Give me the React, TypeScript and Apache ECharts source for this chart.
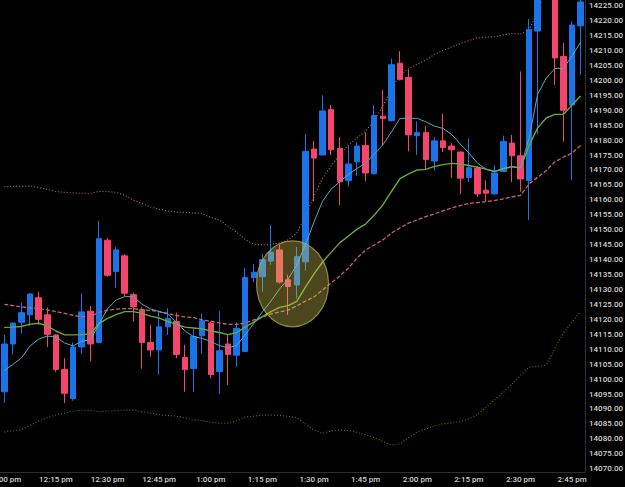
import React, { useEffect, useRef } from 'react';
import * as echarts from 'echarts';

const times = [
  '12:00 pm', '12:02:30 pm', '12:05 pm', '12:07:30 pm', '12:10 pm', '12:12:30 pm',
  '12:15 pm', '12:17:30 pm', '12:20 pm', '12:22:30 pm', '12:25 pm', '12:27:30 pm',
  '12:30 pm', '12:32:30 pm', '12:35 pm', '12:37:30 pm', '12:40 pm', '12:42:30 pm',
  '12:45 pm', '12:47:30 pm', '12:50 pm', '12:52:30 pm', '12:55 pm', '12:57:30 pm',
  '1:00 pm', '1:02:30 pm', '1:05 pm', '1:07:30 pm', '1:10 pm', '1:12:30 pm',
  '1:15 pm', '1:17:30 pm', '1:20 pm', '1:22:30 pm', '1:25 pm', '1:27:30 pm',
  '1:30 pm', '1:32:30 pm', '1:35 pm', '1:37:30 pm', '1:40 pm', '1:42:30 pm',
  '1:45 pm', '1:47:30 pm', '1:50 pm', '1:52:30 pm', '1:55 pm', '1:57:30 pm',
  '2:00 pm', '2:02:30 pm', '2:05 pm', '2:07:30 pm', '2:10 pm', '2:12:30 pm',
  '2:15 pm', '2:17:30 pm', '2:20 pm', '2:22:30 pm', '2:25 pm', '2:27:30 pm',
  '2:30 pm', '2:32:30 pm', '2:35 pm', '2:37:30 pm', '2:40 pm', '2:42:30 pm',
  '2:45 pm', '2:47:30 pm',
];

const open = [
  14095.75, 14111.75, 14119, 14121.5, 14127.25, 14121.5, 14114.75, 14103.25, 14093.5, 14110.75,
  14122.75, 14112.25, 14146.5, 14136, 14141.25, 14128.25, 14123.25, 14112.25, 14109.75, 14117.5,
  14119.25, 14107.25, 14103.5, 14114.5, 14118.75, 14102.5, 14111.75, 14108, 14109.25, 14134,
  14134.25, 14139.5, 14143.25, 14133.25, 14131.5, 14139.25, 14177, 14175, 14190.25, 14177.25,
  14166.5, 14172.75, 14178.25, 14168.75, 14188, 14186.5, 14205.75, 14201, 14181.5, 14182.5,
  14173, 14179.75, 14178, 14176, 14167.5, 14170.5, 14163.25, 14162, 14169.5, 14179,
  14174.75, 14166.5, 14216.5, 14231, 14234, 14208, 14191.75, 14218.25,
];
const close = [
  14111.75, 14118.75, 14122.25, 14128.5, 14120, 14115, 14103.25, 14095.25, 14110.75, 14122.5,
  14111.75, 14147, 14134.75, 14143.25, 14128.75, 14124.25, 14112.25, 14109.75, 14117.5, 14120.25,
  14108.25, 14103.25, 14114.25, 14119.5, 14101.5, 14109.5, 14108.25, 14117, 14134, 14135.75,
  14140, 14142.5, 14132.5, 14131, 14141, 14176.25, 14174, 14189.75, 14176.75, 14166,
  14172, 14178, 14169, 14188.25, 14187.25, 14205.25, 14200.25, 14181.75, 14182.5, 14173.5,
  14179.75, 14177.5, 14176.75, 14167.25, 14170.75, 14162, 14162.25, 14169, 14179.5, 14174.75,
  14167, 14217, 14229, 14238, 14207.5, 14190, 14218.5, 14226.25,
];
const low = [
  14092, 14108.25, 14115.25, 14117.75, 14118.25, 14110.75, 14102.5, 14092, 14092.75, 14108.5,
  14106, 14112, 14134.25, 14130.5, 14127.75, 14119.25, 14103.5, 14107.5, 14101.5, 14114.75,
  14107, 14095.75, 14095.75, 14108.5, 14100.25, 14095, 14098, 14104, 14109, 14132.5,
  14129.25, 14138.25, 14132, 14121.5, 14127, 14136.25, 14159.5, 14175, 14175, 14158.25,
  14164.5, 14168, 14166.25, 14168.5, 14178.25, 14186.25, 14200, 14176.25, 14175, 14170.25,
  14169.75, 14176, 14167.25, 14162, 14166, 14161, 14159.5, 14161.75, 14169.25, 14166,
  14162.75, 14153.25, 14182, 14228.5, 14198.5, 14179.5, 14166.5, 14201.75,
];
const high = [
  14114.75, 14119, 14125.5, 14128.75, 14129.25, 14124, 14115, 14107, 14112.25, 14128.75,
  14124.5, 14153, 14147.25, 14144.25, 14141.75, 14129, 14124, 14118.25, 14122.75, 14123.75,
  14122.25, 14111.5, 14116.75, 14122, 14119.25, 14122.75, 14114.75, 14119, 14137.25, 14138.5,
  14142, 14151.5, 14145, 14135, 14144.25, 14182, 14179.75, 14195, 14191.75, 14181,
  14178, 14179.25, 14182.5, 14191.75, 14196.75, 14207.25, 14209.75, 14203.5, 14186.25, 14184.75,
  14181, 14188.75, 14179, 14176.25, 14180.5, 14171.25, 14166.5, 14171.75, 14181.5, 14181.75,
  14203, 14220.5, 14232, 14241, 14237, 14212.5, 14219.75, 14228,
];

const fastMA = [
  14102.9, 14104.9, 14107.1, 14111.1, 14113.4, 14114.4, 14114.1, 14112.1, 14111.1, 14112.7,
  14113.1, 14118.4, 14123.5, 14126.5, 14127.6, 14127.6, 14125.1, 14123.5, 14122.6, 14121.8,
  14119.1, 14116.1, 14114.2, 14113.6, 14112.6, 14111.2, 14110.5, 14111.2, 14114.8, 14118.6,
  14122.5, 14126.1, 14130.2, 14133.5, 14138.2, 14144.9, 14152.6, 14159.6, 14163.6, 14166.1,
  14168.5, 14170.5, 14172.3, 14175.3, 14178.4, 14182.7, 14187.3, 14187.3, 14187.3, 14186.1,
  14184.7, 14183.9, 14181.9, 14178.7, 14175.7, 14172.3, 14170.2, 14169.5, 14170.6, 14171.1,
  14170.7, 14180.7, 14195.4, 14200.8, 14204.0, 14204.0, 14208.2, 14212.8,
];
const slowMA = [
  14117.3, 14117.4, 14117.6, 14118.4, 14118.7, 14117.8, 14116.1, 14114.8, 14114.8, 14114.9,
  14115.1, 14118.6, 14120.3, 14121.6, 14122.6, 14122.6, 14122.0, 14121.1, 14120.4, 14119.3,
  14118.3, 14117.4, 14117.1, 14116.8, 14116.1, 14115.6, 14114.9, 14115.6, 14117.4, 14119.1,
  14120.9, 14122.6, 14124.0, 14124.6, 14126.0, 14130.8, 14135.2, 14139.2, 14142.5, 14145.6,
  14147.9, 14150.2, 14151.9, 14154.9, 14158.3, 14162.8, 14167.1, 14168.7, 14170.0, 14170.2,
  14171.2, 14171.8, 14172.2, 14172.0, 14171.5, 14170.9, 14170.3, 14169.5, 14170.3, 14171.1,
  14170.7, 14178.2, 14184.1, 14187.4, 14188.6, 14188.6, 14191.8, 14194.8,
];
const bbMid = [
  14125.0, 14124.6, 14124.2, 14123.9, 14123.6, 14123.2, 14122.6, 14122.0, 14121.3, 14120.9,
  14121.0, 14122.3, 14123.0, 14123.4, 14123.6, 14123.6, 14123.2, 14123.0, 14122.6, 14122.0,
  14121.3, 14120.8, 14120.6, 14119.8, 14119.3, 14118.8, 14118.3, 14118.3, 14118.8, 14119.8,
  14120.8, 14121.8, 14122.5, 14123.1, 14124.5, 14126.1, 14127.5, 14129.8, 14132.2, 14134.5,
  14137.2, 14140.5, 14143.2, 14144.9, 14146.6, 14148.9, 14150.6, 14152.2, 14153.3, 14154.4,
  14155.3, 14156.3, 14157.3, 14158.1, 14158.8, 14159.1, 14159.4, 14159.8, 14160.3, 14161.0,
  14161.5, 14165.3, 14167.6, 14169.8, 14172.7, 14174.3, 14175.7, 14178.2,
];
const bbUpper = [
  14164.4, 14164.5, 14164.5, 14164.6, 14164.1, 14163.5, 14162.8, 14162.5, 14162.3, 14162.2,
  14162.2, 14162.8, 14162.8, 14162.5, 14161.5, 14159.9, 14158.8, 14157.6, 14156.8, 14156.3,
  14155.9, 14155.8, 14155.6, 14155.4, 14154.1, 14153.3, 14151.2, 14149.2, 14146.7, 14145.2,
  14144.9, 14145.1, 14145.6, 14146.6, 14148.9, 14154.6, 14161.3, 14167.3, 14171.5, 14175.0,
  14178.4, 14180.7, 14183.0, 14186.6, 14191.4, 14196.8, 14202.1, 14203.8, 14205.5, 14206.8,
  14208.7, 14210.0, 14211.2, 14212.3, 14213.3, 14214.2, 14214.5, 14214.6, 14215.2, 14215.7,
  14215.5, 14216.9, 14223.2, 14231.0, 14236.0, 14239.0, 14242.0, 14245.0,
];
const bbLower = [
  14082.3, 14082.7, 14083.1, 14084.5, 14086.0, 14087.1, 14088.0, 14088.6, 14089.3, 14089.6,
  14089.5, 14089.1, 14089.3, 14089.5, 14089.6, 14089.6, 14089.1, 14088.6, 14088.1, 14087.8,
  14087.6, 14087.0, 14086.3, 14086.1, 14085.6, 14085.2, 14085.2, 14086.0, 14087.3, 14087.6,
  14087.9, 14088.0, 14087.8, 14087.5, 14087.1, 14085.0, 14082.9, 14081.9, 14082.6, 14082.9,
  14082.8, 14082.1, 14081.4, 14080.4, 14079.1, 14077.9, 14078.3, 14080.4, 14082.3, 14083.3,
  14084.3, 14085.0, 14085.3, 14085.8, 14086.7, 14088.2, 14090.5, 14093.1, 14095.5, 14098.3,
  14101.2, 14104.0, 14104.3, 14104.7, 14110.4, 14115.4, 14119.1, 14122.6,
];

// highlighted zone (between candles 33 and 34)
const highlightIndex = [33, 34];
const highlightValue = 14131.9;

const yMin = 14068.9;
const yMax = 14226.9;

export default function App() {
  const ref = useRef<HTMLDivElement>(null);
  useEffect(() => {
    document.body.style.margin = '0';
    document.body.style.background = '#000';
    const chart = echarts.init(ref.current as HTMLDivElement, null, { renderer: 'svg' });
    const candles = open.map((o, i) => [o, close[i], low[i], high[i]]);
    const labelStyle = {
      color: '#d2d2d2',
      fontSize: 8,
      fontFamily: 'Roboto',
      fontWeight: 500,
    };
    chart.setOption({
      animation: false,
      backgroundColor: '#000000',
      grid: {
        left: 0,
        right: 40,
        top: 0,
        bottom: 15,
        containLabel: false,
        outerBoundsMode: 'none',
      },
      xAxis: {
        type: 'category',
        data: times,
        boundaryGap: true,
        axisLine: { show: true, lineStyle: { color: '#2e2e2e', width: 1 } },
        axisTick: { show: false },
        splitLine: { show: false },
        axisLabel: { ...labelStyle, interval: 5, margin: 3 },
      },
      yAxis: {
        type: 'value',
        position: 'right',
        min: yMin,
        max: yMax,
        splitNumber: 32,
        minInterval: 5,
        maxInterval: 5,
        axisLine: { show: true, lineStyle: { color: '#2e2e2e', width: 1 } },
        axisTick: { show: false },
        splitLine: { show: false },
        axisLabel: {
          ...labelStyle,
          margin: 4,
          showMinLabel: false,
          showMaxLabel: false,
          formatter: (v: number) =>
            Math.abs(v / 5 - Math.round(v / 5)) < 1e-6 ? v.toFixed(2) : '',
        },
      },
      series: [
        {
          type: 'line',
          name: 'upper',
          data: bbUpper,
          symbol: 'none',
          lineStyle: { color: '#b27272', width: 1.1, type: [1, 2] },
          z: 1,
        },
        {
          type: 'line',
          name: 'lower',
          data: bbLower,
          symbol: 'none',
          lineStyle: { color: '#3f821d', width: 1.1, type: [1, 2] },
          z: 1,
        },
        {
          type: 'candlestick',
          data: candles,
          barWidth: 6,
          itemStyle: {
            color: '#1a73e8',
            color0: '#f4456c',
            borderColor: '#1a73e8',
            borderColor0: '#f4456c',
            borderWidth: 1,
          },
          z: 2,
        },
        {
          type: 'line',
          name: 'mid',
          data: bbMid,
          symbol: 'none',
          lineStyle: { color: '#c8646e', width: 1.3, type: [4, 2] },
          z: 3,
        },
        {
          type: 'line',
          name: 'slow',
          data: slowMA,
          symbol: 'none',
          lineStyle: { color: '#6aab32', width: 1.4 },
          z: 3,
        },
        {
          type: 'line',
          name: 'fast',
          data: fastMA,
          symbol: 'none',
          lineStyle: { color: '#58a8bc', width: 1 },
          z: 3,
        },
      ],
    });
    const p1 = chart.convertToPixel({ gridIndex: 0 }, [highlightIndex[0], highlightValue]) as number[];
    const p2 = chart.convertToPixel({ gridIndex: 0 }, [highlightIndex[1], highlightValue]) as number[];
    chart.setOption({
      graphic: [
        {
          type: 'ellipse',
          z: 100,
          shape: { cx: (p1[0] + p2[0]) / 2, cy: p1[1], rx: 36, ry: 43 },
          style: {
            fill: 'rgba(215, 200, 80, 0.35)',
            stroke: 'rgba(190, 175, 90, 0.7)',
            lineWidth: 1.2,
          },
        },
      ],
    });
    return () => chart.dispose();
  }, []);
  return (
    <div
      ref={ref}
      style={{ position: 'fixed', left: 0, top: 0, width: 625, height: 487, background: '#000' }}
    />
  );
}
